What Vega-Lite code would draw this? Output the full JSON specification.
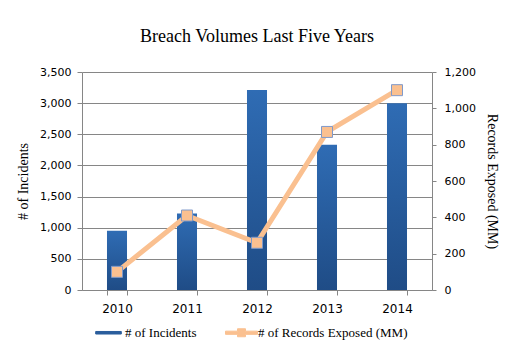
{
  "$schema": "https://vega.github.io/schema/vega-lite/v6.json",
  "width": 350,
  "height": 218,
  "autosize": {"type": "none"},
  "padding": {"left": 82, "top": 72, "right": 96, "bottom": 67},
  "background": "white",
  "title": {"text": "Breach Volumes Last Five Years", "font": "Liberation Serif", "fontSize": 18, "fontWeight": "normal", "color": "#000000", "offset": 20, "anchor": "middle"},
  "data": {"values": [
    {"year": "2010", "incidents": 950, "records": 100},
    {"year": "2011", "incidents": 1230, "records": 410},
    {"year": "2012", "incidents": 3210, "records": 260},
    {"year": "2013", "incidents": 2330, "records": 870},
    {"year": "2014", "incidents": 3000, "records": 1100}
  ]},
  "encoding": {
    "x": {"field": "year", "type": "ordinal", "scale": {"paddingInner": 0.714, "paddingOuter": 0.357},
      "axis": {"title": null, "labelAngle": 0, "tickBand": "extent", "labelFont": "DejaVu Sans", "labelFontSize": 12, "labelColor": "#000000", "tickColor": "#868686", "domainColor": "#868686", "tickSize": 5, "labelPadding": 8, "grid": false}}
  },
  "layer": [
    {
      "mark": {"type": "bar", "color": {"gradient": "linear", "x1": 0, "y1": 0, "x2": 0, "y2": 1, "stops": [{"offset": 0, "color": "#2F6CB4"}, {"offset": 1, "color": "#1F4C86"}]}},
      "encoding": {
        "y": {"field": "incidents", "type": "quantitative", "scale": {"domain": [0, 3500]},
          "axis": {"orient": "left", "title": "# of Incidents", "titleFont": "Liberation Serif", "titleFontSize": 14, "titleFontWeight": "normal", "titleColor": "#000000", "titlePadding": 9,
            "labelFont": "DejaVu Sans", "labelFontSize": 11, "labelColor": "#000000", "values": [0, 500, 1000, 1500, 2000, 2500, 3000, 3500], "format": ",.0f",
            "grid": true, "gridColor": "#868686", "domainColor": "#868686", "tickColor": "#868686", "tickSize": 5, "labelPadding": 6}}
      }
    },
    {
      "layer": [
        {
          "mark": {"type": "line", "strokeWidth": 5},
          "encoding": {
            "color": {"datum": "# of Records Exposed (MM)", "type": "nominal",
              "scale": {"domain": ["# of Incidents", "# of Records Exposed (MM)"], "range": ["#2A5D9C", "#FAC090"]},
              "legend": {"orient": "none", "legendX": 10, "legendY": 244, "direction": "horizontal", "title": null,
                "labelFont": "Liberation Serif", "labelFontSize": 13, "labelColor": "#000000", "symbolSize": 1024, "labelOffset": 0, "columnPadding": 26,
                "encode": {"symbols": {"update": {
                  "shape": {"signal": "datum.value === '# of Incidents' ? 'M-0.8,-0.08H0.8V0.08H-0.8Z' : 'M-1,-0.1H-0.25V-0.25H0.25V-0.1H1V0.1H0.25V0.25H-0.25V0.1H-1Z'"},
                  "fill": {"signal": "datum.value === '# of Incidents' ? '#2A5D9C' : '#FAC090'"},
                  "stroke": {"signal": "datum.value === '# of Incidents' ? '#2A5D9C' : '#FAC090'"},
                  "strokeWidth": {"value": 1},
                  "opacity": {"value": 1}
                }}}}
            }
          }
        },
        {
          "mark": {"type": "point", "shape": "square", "size": 121, "filled": true, "fill": "#FAC090", "stroke": "#7F9ACB", "strokeWidth": 1, "opacity": 1}
        }
      ],
      "encoding": {
        "y": {"field": "records", "type": "quantitative", "scale": {"domain": [0, 1200]},
          "axis": {"orient": "right", "title": "Records Exposed (MM)", "titleAngle": 90, "titleFont": "Liberation Serif", "titleFontSize": 14, "titleFontWeight": "normal", "titleColor": "#000000", "titlePadding": 9,
            "labelFont": "DejaVu Sans", "labelFontSize": 11, "labelColor": "#000000", "values": [0, 200, 400, 600, 800, 1000, 1200], "format": ",.0f",
            "grid": false, "domainColor": "#868686", "tickColor": "#868686", "tickSize": 4, "labelPadding": 8}}
      }
    }
  ],
  "resolve": {"scale": {"y": "independent"}},
  "config": {"view": {"stroke": null}}
}
